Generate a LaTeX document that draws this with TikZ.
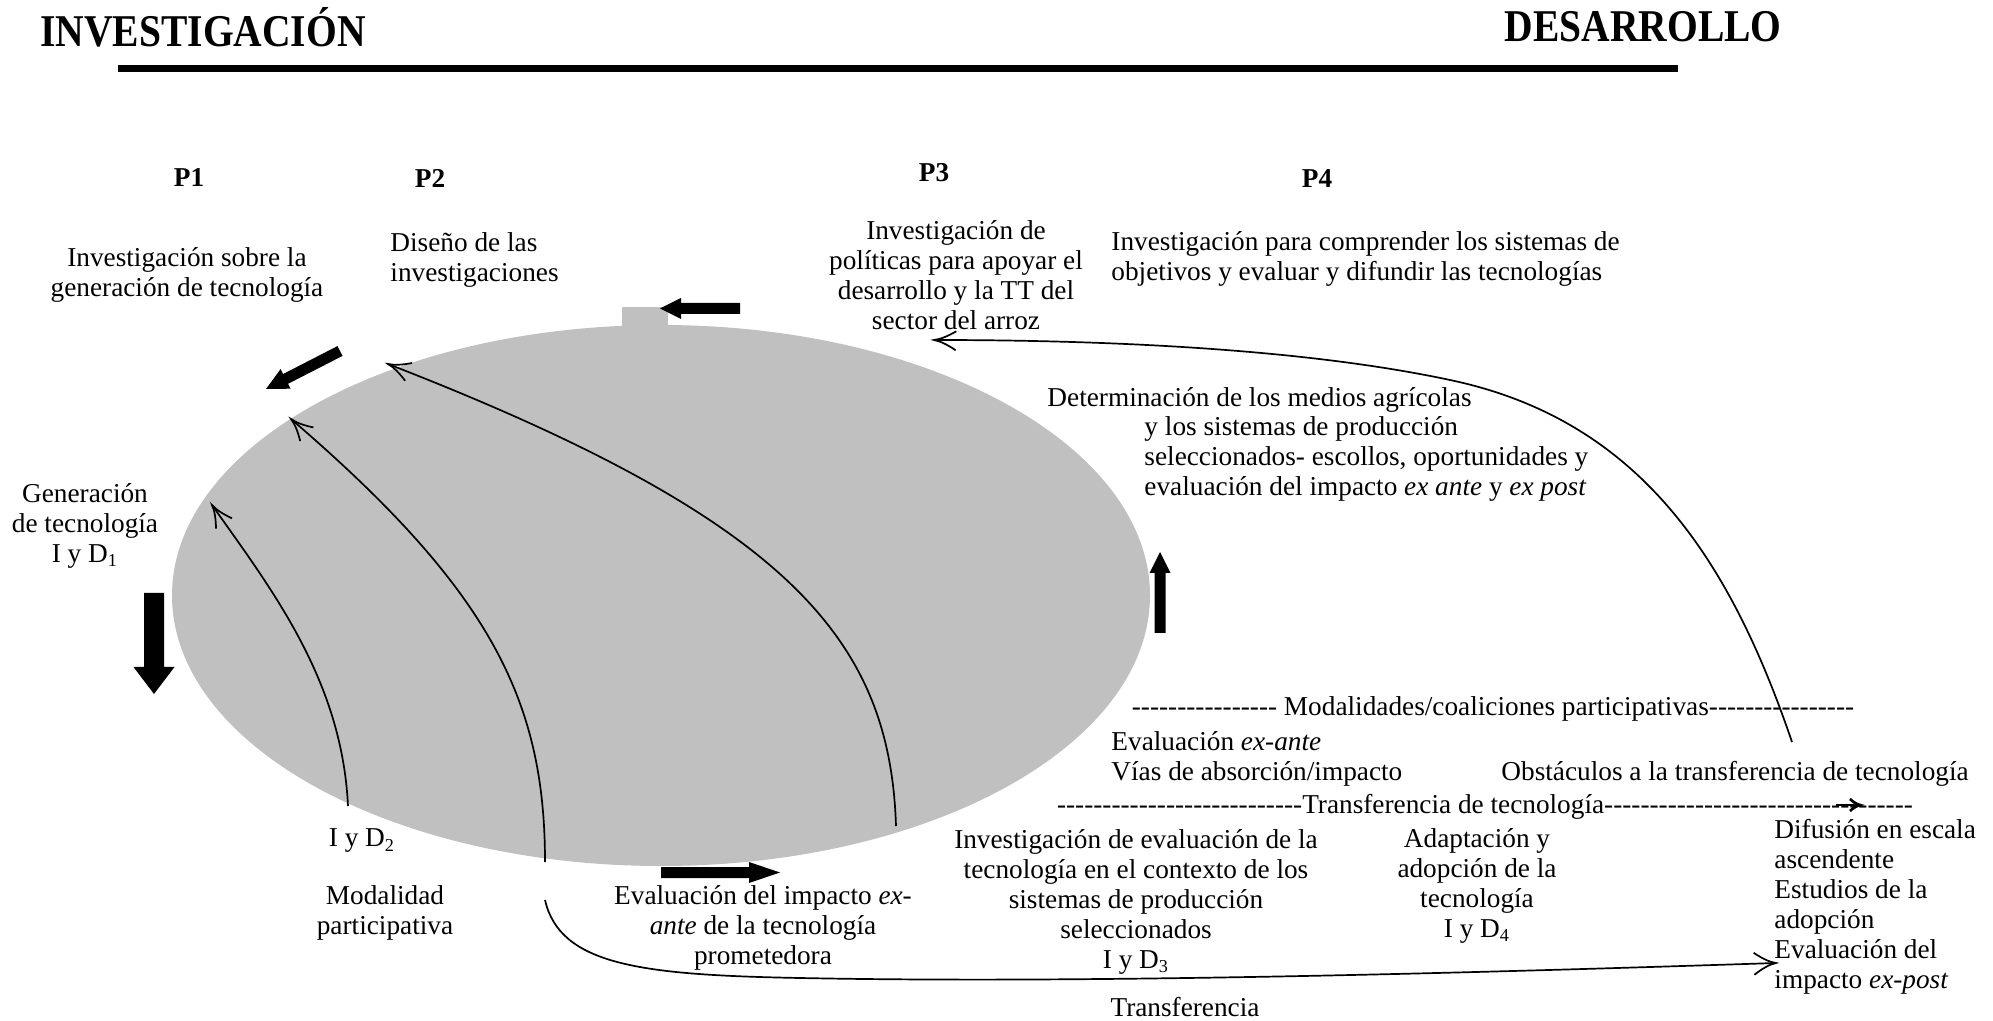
\documentclass[tikz,border=0pt]{standalone}
\usepackage{fontspec}
\defaultfontfeatures[\rmfamily]{}
\setmainfont{Liberation Serif}
\newfontfamily\hdrfamily[FakeStretch=0.87]{Liberation Serif}

\tikzset{
  lbl/.style={inner sep=0pt, font=\fontsize{12}{13.2}\selectfont},
  hdr/.style={inner sep=0pt, font=\hdrfamily\fontsize{20}{22}\selectfont\bfseries},
  phase/.style={inner sep=0pt, font=\fontsize{12}{14}\selectfont\bfseries},
  blockarrow/.style={fill={rgb, 255:red, 0; green, 0; blue, 0 }, draw=none},
  flow/.style={line width=0.75pt},
  barb/.style={color={rgb, 255:red, 0; green, 0; blue, 0 }, line width=0.75pt},
}

\begin{document}
\begin{tikzpicture}[x=0.44pt,y=0.44pt,yscale=-1,xscale=1]
\useasboundingbox (0,0) rectangle (1993,1021);

%Shape: Ellipse [id:dp4418207365120593]
\draw [fill={rgb, 255:red, 192; green, 192; blue, 192 }, draw=none] (661,595.5) ellipse [x radius=489, y radius=270.5];
%Shape: Rectangle [id:dp8803216657452119]
\draw [fill={rgb, 255:red, 192; green, 192; blue, 192 }, draw=none] (622,307) -- (668,307) -- (668,330) -- (622,330) -- cycle;

%Straight Lines [id:da5120934477160823]
\draw [line width=3pt] (118,68.5) -- (1678,68.5);

%Left Arrow [id:dp1937746501824409]
\draw [blockarrow] (740,303) -- (681,303) -- (681,298) -- (660,308.5) -- (681,319) -- (681,314) -- (740,314) -- cycle;
%Down Left Arrow [id:dp6620185393024371]
\draw [blockarrow] (337.5,346.1) -- (283.1,374) -- (280.6,369.1) -- (266,389) -- (290.6,388.7) -- (288.1,383.8) -- (342.5,355.9) -- cycle;
%Down Arrow [id:dp2275046318810536]
\draw [blockarrow] (144,593) -- (164,593) -- (164,667) -- (174.5,667) -- (154,694) -- (133.5,667) -- (144,667) -- cycle;
%Right Arrow [id:dp9054418716635172]
\draw [blockarrow] (661,867) -- (749,867) -- (749,862) -- (780,872.5) -- (749,883) -- (749,878) -- (661,878) -- cycle;
%Up Arrow [id:dp3581164902275530]
\draw [blockarrow] (1154.5,633) -- (1154.5,573) -- (1149.5,573) -- (1160,552) -- (1170.5,573) -- (1165.5,573) -- (1165.5,633) -- cycle;

% Text Node
\node [hdr, anchor=west] (investigacion) at (40,27) {INVESTIGACIÓN};
% Text Node
\node [hdr, anchor=east] (desarrollo) at (1782,27) {DESARROLLO};
% Text Node
\node [phase] (pOne) at (189,178) {P1};
% Text Node
\node [phase] (pTwo) at (430,178) {P2};
% Text Node
\node [phase] (pThree) at (934,173) {P3};
% Text Node
\node [phase] (pFour) at (1317,179) {P4};
% Text Node
\node [lbl, align=center] (genInv) at (187,275) {Investigación sobre la\\generación de tecnología};
% Text Node
\node [lbl, align=left, anchor=west] (disInv) at (390,260) {Diseño de las\\investigaciones};
% Text Node
\node [lbl, align=center] (polInv) at (956,275) {Investigación de\\políticas para apoyar el\\desarrollo y la TT del\\sector del arroz};
% Text Node
\node [lbl, align=left, anchor=west] (sisObj) at (1111,259) {Investigación para comprender los sistemas de\\objetivos y evaluar y difundir las tecnologías};
% Text Node
\node [lbl, align=center] (genTec) at (85,526) {Generación\\de tecnología\\I y D\textsubscript{1}};
% Text Node
\node [lbl, anchor=west] (detMed) at (1047,400) {Determinación de los medios agrícolas};
% Text Node
\node [lbl, align=left, anchor=west] (detSis) at (1144,459) {y los sistemas de producción\\seleccionados- escollos, oportunidades y\\evaluación del impacto \textit{ex ante} y \textit{ex post}};
% Text Node
\node [lbl] (modCoal) at (1493,709) {---------------- Modalidades/coaliciones participativas----------------};
% Text Node
\node [lbl, anchor=west] (evalAnte) at (1111,741) {Evaluación \textit{ex-ante}};
% Text Node
\node [lbl, anchor=west] (viasAbs) at (1111,774) {Vías de absorción/impacto};
% Text Node
\node [lbl, anchor=west] (obsTT) at (1501,774) {Obstáculos a la transferencia de tecnología};
% Text Node
\node [lbl] (transTec) at (1485,807) {---------------------------Transferencia de tecnología----------------------------------};
% Text Node
\node [lbl, align=center] (evalTec) at (1136,902) {Investigación de evaluación de la\\tecnología en el contexto de los\\sistemas de producción\\seleccionados\\I y D\textsubscript{3}};
% Text Node
\node [lbl, align=center] (adapTec) at (1477,886) {Adaptación y\\adopción de la\\tecnología\\I y D\textsubscript{4}};
% Text Node
\node [lbl, align=left, anchor=west] (difEsc) at (1774,907) {Difusión en escala\\ascendente\\Estudios de la\\adopción\\Evaluación del\\impacto \textit{ex-post}};
% Text Node
\node [lbl] (transfer) at (1185,1007) {Transferencia};
% Text Node
\node [lbl] (iyDdos) at (362,841) {I y D\textsubscript{2}};
% Text Node
\node [lbl, align=center] (modPart) at (385,913) {Modalidad\\participativa};
% Text Node
\node [lbl, align=center] (evalImp) at (763,928) {Evaluación del impacto \textit{ex-}\\\textit{ante} de la tecnología\\prometedora};

% end points of the curves
\coordinate (cOneS) at (348,806);
\coordinate (cOneE) at (212,505);
\coordinate (cTwoS) at (545,862);
\coordinate (cTwoE) at (291,419);
\coordinate (cThrS) at (896,826);
\coordinate (cThrE) at (388,364);
\coordinate (cFouS) at (1792,742);
\coordinate (cFouE) at (934,340);
\coordinate (cFivS) at (545,900);
\coordinate (cFivE) at (1776,963);
\coordinate (tArrS) at (1836,805);
\coordinate (tArrE) at (1860,805);

%Curve Lines [id:da3370529184617755]
\draw [flow] (cOneS) .. controls (342,680) and (272,590) .. (cOneE);
\draw [barb, shift={(cOneE)}, rotate=57] (22,-9.5) .. controls (14,-4.5) and (6.6,-1) .. (0,0) .. controls (6.6,1) and (14,4.5) .. (22,9.5);
%Curve Lines [id:da7146029931580066]
\draw [flow] (cTwoS) .. controls (545,700) and (490,590) .. (cTwoE);
\draw [barb, shift={(cTwoE)}, rotate=44] (22,-9.5) .. controls (14,-4.5) and (6.6,-1) .. (0,0) .. controls (6.6,1) and (14,4.5) .. (22,9.5);
%Curve Lines [id:da2659108174452206]
\draw [flow] (cThrS) .. controls (890,640) and (790,520) .. (cThrE);
\draw [barb, shift={(cThrE)}, rotate=21] (22,-9.5) .. controls (14,-4.5) and (6.6,-1) .. (0,0) .. controls (6.6,1) and (14,4.5) .. (22,9.5);
%Curve Lines [id:da9431058261772042]
\draw [flow] (cFouS) .. controls (1730,560) and (1640,420) .. (1450,380) .. controls (1300,348) and (1100,340) .. (cFouE);
\draw [barb, shift={(cFouE)}, rotate=2] (22,-9.5) .. controls (14,-4.5) and (6.6,-1) .. (0,0) .. controls (6.6,1) and (14,4.5) .. (22,9.5);
%Curve Lines [id:da0842273616907351]
\draw [flow] (cFivS) .. controls (560,965) and (640,975) .. (800,978) .. controls (1100,984) and (1500,972) .. (cFivE);
\draw [barb, shift={(cFivE)}, rotate=178] (22,-11) .. controls (14,-5.2) and (6.6,-1.1) .. (0,0) .. controls (6.6,1.1) and (14,5.2) .. (22,11);
%Straight Lines [id:da6183520447913306]
\draw [line width=1pt] (tArrS) -- (tArrE);
\draw [barb, line width=1.2pt, shift={(tArrE)}, rotate=180] (10,-6) .. controls (6.4,-2.6) and (3,-0.6) .. (0,0) .. controls (3,0.6) and (6.4,2.6) .. (10,6);

\end{tikzpicture}
\end{document}
